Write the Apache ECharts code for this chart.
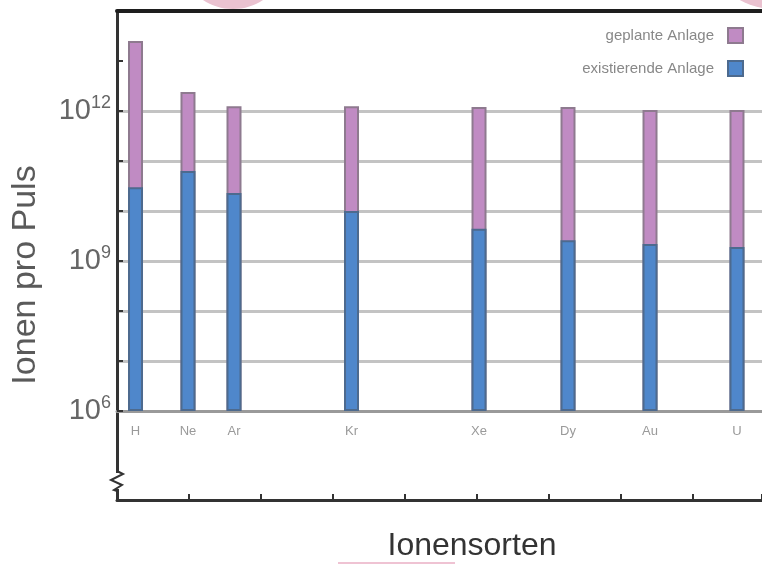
<!DOCTYPE html>
<html>
<head>
<meta charset="utf-8">
<script src="https://cdn.jsdelivr.net/npm/echarts@6/dist/echarts.min.js"></script>
<style>
html,body{margin:0;padding:0;background:#fff;}
#c{width:762px;height:565px;}
</style>
</head>
<body>
<div id="c"></div>
<script>
const ions = ['H', 'Ne', 'Ar', 'Kr', 'Xe', 'Dy', 'Au', 'U'];
const xPos = [0.257, 0.986, 1.625, 3.257, 5.028, 6.264, 7.403, 8.611];
const planned = [2.5e13, 2.4e12, 1.25e12, 1.25e12, 1.2e12, 1.2e12, 1.05e12, 1.05e12];
const existing = [3.0e10, 6.3e10, 2.3e10, 1.0e10, 4.4e9, 2.6e9, 2.2e9, 1.9e9];
const seriesNames = ['geplante Anlage', 'existierende Anlage'];
const yTitle = 'Ionen pro Puls';
const xTitle = 'Ionensorten';

const XMAX = 645 / 72;
const chart = echarts.init(document.getElementById('c'), null, {renderer: 'canvas'});

function nameAt(v) {
  const i = xPos.findIndex(p => Math.abs(p - v) < 1e-6);
  return i >= 0 ? ions[i] : '';
}

const G = '#c3c3c3', T = 'rgba(0,0,0,0)';
const gridColors = [T, G, G, G, G, G, G, G, T];

chart.setOption({
  animation: false,
  backgroundColor: '#fff',
  textStyle: {fontFamily: 'Liberation Sans'},
  grid: [
    {left: 117, right: 0, top: 11, bottom: 154},
    {left: 117, right: 0, top: 411, bottom: 65}
  ],
  xAxis: [
    {
      gridIndex: 0, type: 'value', min: 0, max: XMAX, position: 'bottom',
      axisLine: {show: true, onZero: false, lineStyle: {color: '#9a9a9a', width: 3}},
      axisTick: {show: false},
      splitLine: {show: false},
      axisLabel: {
        show: true, customValues: xPos, formatter: nameAt,
        color: '#9a9a9a', fontSize: 13, margin: 14
      }
    },
    {
      gridIndex: 0, type: 'value', min: 0, max: XMAX, position: 'top',
      axisLine: {show: true, onZero: false, lineStyle: {color: '#1e1e1e', width: 4}},
      axisTick: {show: false}, axisLabel: {show: false}, splitLine: {show: false},
      z: 6
    },
    {
      gridIndex: 1, type: 'value', min: 0, max: XMAX, interval: 1, position: 'bottom',
      axisLine: {show: true, onZero: false, lineStyle: {color: '#333', width: 3}},
      axisTick: {show: true, inside: true, length: 6, lineStyle: {color: '#333', width: 2}},
      axisLabel: {show: false}, splitLine: {show: false}
    }
  ],
  yAxis: [
    {
      gridIndex: 0, type: 'log', logBase: 10, min: 1e6, max: 1e14, splitNumber: 8,
      startValue: 1e6,
      axisLine: {show: true, lineStyle: {color: '#333', width: 3}},
      axisTick: {show: true, inside: true, length: 6, lineStyle: {color: '#333', width: 2}},
      splitLine: {show: true, lineStyle: {color: gridColors, width: 3}},
      axisLabel: {
        margin: 6,
        formatter: function (v) {
          const e = Math.round(Math.log10(v));
          return (e % 3 === 0 && e <= 12) ? '{b|10}{s|' + e + '}' : '';
        },
        rich: {
          b: {fontSize: 29, color: '#666', fontFamily: 'Liberation Sans'},
          s: {fontSize: 18, color: '#666', fontFamily: 'Liberation Sans', padding: [0, 0, 16, 0]}
        }
      }
    },
    {
      gridIndex: 1, type: 'value', min: 0, max: 1,
      axisLine: {show: true, lineStyle: {color: '#333', width: 3}},
      axisTick: {show: false}, axisLabel: {show: false}, splitLine: {show: false}
    }
  ],
  legend: {
    orient: 'vertical', right: 18, top: 27, align: 'right', padding: 0,
    itemWidth: 15, itemHeight: 15, itemGap: 16, icon: 'rect',
    data: seriesNames,
    textStyle: {color: '#888', fontSize: 15, fontFamily: 'Liberation Sans', padding: [0, 9, 0, 0]}
  },
  series: [
    {
      name: seriesNames[0], type: 'bar', xAxisIndex: 0, yAxisIndex: 0,
      barWidth: 15, barGap: '-100%', clip: true, z: 3,
      data: xPos.map((x, i) => [x, planned[i]]),
      itemStyle: {color: '#c08bc3', borderColor: '#8e7a8f', borderWidth: 2}
    },
    {
      name: seriesNames[1], type: 'bar', xAxisIndex: 0, yAxisIndex: 0,
      barWidth: 15, barGap: '-100%', clip: true, z: 4,
      data: xPos.map((x, i) => [x, existing[i]]),
      itemStyle: {color: '#4f87cb', borderColor: '#4d6a8e', borderWidth: 2}
    }
  ],
  graphic: [
    {type: 'ellipse', shape: {cx: 233, cy: -30, rx: 47, ry: 39}, style: {fill: '#eac2d0'}, z: -10},
    {type: 'ellipse', shape: {cx: 775, cy: -25, rx: 52, ry: 34}, style: {fill: '#eac2d0'}, z: -10},
    {type: 'rect', shape: {x: 338, y: 562, width: 117, height: 2}, style: {fill: '#efc3d3'}, z: -10},
    {type: 'rect', shape: {x: 110, y: 473, width: 14, height: 16}, style: {fill: '#fff'}, z: 50},
    {type: 'polyline', shape: {points: [[117, 471], [123, 474], [111, 480], [122, 485], [114, 490], [117, 491]]},
      style: {stroke: '#333', lineWidth: 2, fill: null}, z: 51},
    {type: 'text', x: 26, y: 275, rotation: Math.PI / 2,
      style: {text: yTitle, fontSize: 34, fontFamily: 'Liberation Sans', fill: '#5a5a5a', align: 'center', verticalAlign: 'middle'}},
    {type: 'text', x: 472, y: 546,
      style: {text: xTitle, fontSize: 32, fontFamily: 'Liberation Sans', fill: '#333', align: 'center', verticalAlign: 'middle'}}
  ]
});
</script>
</body>
</html>
